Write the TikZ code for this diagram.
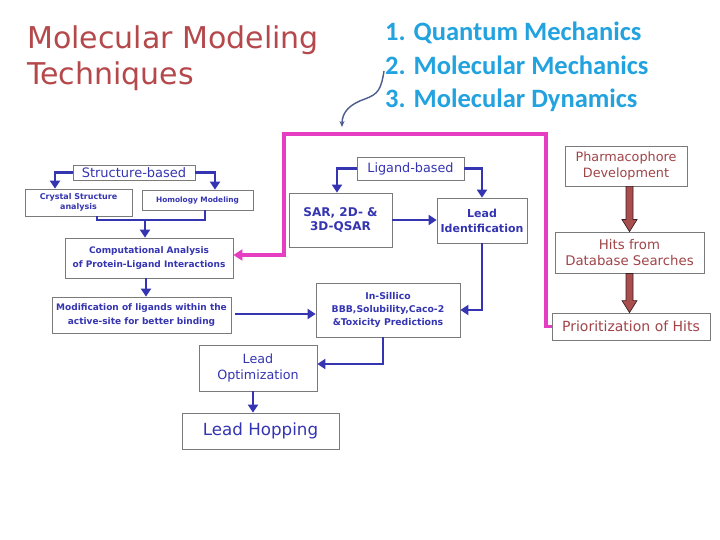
\documentclass[tikz,border=0pt]{standalone}
\usepackage{fontspec}
\setmainfont{DejaVu Sans}
\newfontfamily\calib{Carlito}
\usetikzlibrary{arrows.meta,calc}
\definecolor{titlered}{HTML}{B5484B}
\definecolor{listblue}{HTML}{22A2DE}
\definecolor{diagblue}{HTML}{3535B2}
\definecolor{boxgray}{HTML}{7A7A7A}
\definecolor{pinkline}{HTML}{E63EC2}
\definecolor{brownred}{HTML}{A04448}
\definecolor{fatred}{HTML}{A84E4E}
\definecolor{fatline}{HTML}{3A2020}
\definecolor{curveblue}{HTML}{4C5C8C}
\newcommand{\fsz}[2]{\fontsize{#1}{#2}\selectfont}
\begin{document}
\begin{tikzpicture}[x=1pt,y=-1pt,
  bx/.style={draw=boxgray, line width=0.8pt, fill=white, text=diagblue, align=center, inner sep=1pt},
  rbx/.style={bx, text=brownred},
  arr/.style={draw=diagblue, line width=2.2pt, -{Triangle[length=8pt,width=10pt]}},
  ln/.style={draw=diagblue, line width=2.2pt},
  pk/.style={draw=pinkline, line width=3.2pt, -{Triangle[length=9pt,width=11pt]}},
  fat/.style={fill=fatred, draw=fatline, line width=0.7pt},
  listline/.style={anchor=base west, text=listblue, font=\calib\bfseries\fsz{26.5}{30}, inner sep=0pt},
  titleline/.style={anchor=base west, text=titlered, font=\fsz{30}{35}, inner sep=0pt}
]
\useasboundingbox (0,0) rectangle (720,540);
\fill[white] (0,0) rectangle (720,540);

% titles
\node[titleline] (t1) at (27,49) {Molecular Modeling};
\node[titleline] (t2) at (27,85) {Techniques};
\node[listline] (l1) at (385,41) {1. Quantum Mechanics};
\node[listline] (l2) at (385,74.5) {2. Molecular Mechanics};
\node[listline] (l3) at (385,108) {3. Molecular Dynamics};

% curved arrow
\coordinate (cva) at (384,71);
\coordinate (cvm) at (365,99);
\coordinate (cvb) at (342,127);
\draw[curveblue, line width=1.4pt, -{Stealth[length=6pt,width=5pt]}]
  (cva) .. controls (381,90) and (378,94) .. (cvm) .. controls (350,104) and (342,112) .. (cvb);

% structure-based branch
\node[bx, minimum width=122pt, minimum height=15pt, font=\fsz{13}{14}] (sb) at (134,172.5) {Structure-based};
\node[bx, minimum width=107pt, minimum height=27pt, font=\bfseries\fsz{8}{10.5}] (cs) at (78.5,202.5) {Crystal Structure\\analysis};
\node[bx, minimum width=111pt, minimum height=20pt, font=\bfseries\fsz{7.4}{10}] (hm) at (197.5,200) {Homology Modeling};
\node[bx, minimum width=168pt, minimum height=40pt, font=\bfseries\fsz{9}{14}] (ca) at (149,258) {Computational Analysis\\of Protein-Ligand Interactions};
\node[bx, minimum width=179pt, minimum height=36pt, font=\bfseries\fsz{9}{13.5}] (mod) at (141.5,315) {Modification of ligands within the\\active-site for better binding};

% ligand-based branch
\node[bx, minimum width=107pt, minimum height=23pt, font=\fsz{12.8}{14}] (lb) at (410.5,168.5) {Ligand-based};
\node[bx, minimum width=103pt, minimum height=54pt, font=\bfseries\fsz{12}{14}] (sar) at (340.5,220) {SAR, 2D- \&\\3D-QSAR};
\node[bx, minimum width=90pt, minimum height=45pt, font=\bfseries\fsz{11}{15}] (li) at (482,220.5) {Lead\\Identification};
\node[bx, minimum width=144pt, minimum height=54pt, font=\bfseries\fsz{9.3}{12.8}] (is) at (388,310) {In-Sillico\\BBB,Solubility,Caco-2\\\&Toxicity Predictions};
\node[bx, minimum width=118pt, minimum height=46pt, font=\fsz{12.7}{16.5}] (lo) at (258,368) {Lead\\Optimization};
\node[bx, minimum width=157pt, minimum height=36pt, font=\fsz{16.7}{18}] (lh) at (260.5,431) {Lead Hopping};

% right column
\node[rbx, minimum width=122pt, minimum height=40pt, font=\fsz{12.8}{15.5}] (ph) at (626,166) {Pharmacophore\\Development};
\node[rbx, minimum width=149pt, minimum height=41pt, font=\fsz{13.3}{16.5}] (hits) at (629.5,252.5) {Hits from\\Database Searches};
\node[rbx, minimum width=158pt, minimum height=27pt, font=\fsz{14}{15}] (pr) at (631,326.5) {Prioritization of Hits};

% blue connectors
\draw[arr] (sb.west) -| ([xshift=-23.5pt]cs.north);
\draw[arr] (sb.east) -| ([xshift=17.5pt]hm.north);
\coordinate (mj) at (145,220);
\draw[ln] ([xshift=18.5pt]cs.south) |- (mj) -| ([xshift=7.5pt]hm.south);
\draw[arr] (mj) -- (mj |- ca.north);
\draw[arr] ([xshift=-3pt]ca.south) -- ([xshift=-3pt]ca.south |- mod.north);
\draw[arr, shorten <=4pt] ([yshift=1pt]mod.east) -- ([yshift=1pt]mod.east -| is.west);
\draw[arr] (lb.west) -| ([xshift=-3.5pt]sar.north);
\draw[arr] (lb.east) -| (li.north);
\draw[arr] (sar.east) -- (sar.east -| li.west);
\draw[arr] (li.south) |- (is.east);
\draw[arr] ([xshift=-5pt]is.south) |- ([yshift=4pt]lo.east);
\draw[arr] ([xshift=-5pt]lo.south) -- ([xshift=-5pt]lo.south |- lh.north);

% pink connector
\coordinate (pa) at (546,134);
\coordinate (pb) at (284,134);
\draw[pk] (pr.west) -| (pa) -- (pb) |- ([yshift=3pt]ca.east);

% fat arrows
\draw[fat] let \p1=(ph.south), \p2=(hits.north) in
  (\x2-3.5pt,\y1) -- (\x2-3.5pt,\y2+12pt) -- (\x2-7.5pt,\y2+12pt) -- (\x2,\y2)
  -- (\x2+7.5pt,\y2+12pt) -- (\x2+3.5pt,\y2+12pt) -- (\x2+3.5pt,\y1) -- cycle;
\draw[fat] let \p1=(hits.south), \p2=(pr.north) in
  (\x1-3.5pt,\y1) -- (\x1-3.5pt,\y2+12pt) -- (\x1-7.5pt,\y2+12pt) -- (\x1,\y2)
  -- (\x1+7.5pt,\y2+12pt) -- (\x1+3.5pt,\y2+12pt) -- (\x1+3.5pt,\y1) -- cycle;
\end{tikzpicture}
\end{document}
